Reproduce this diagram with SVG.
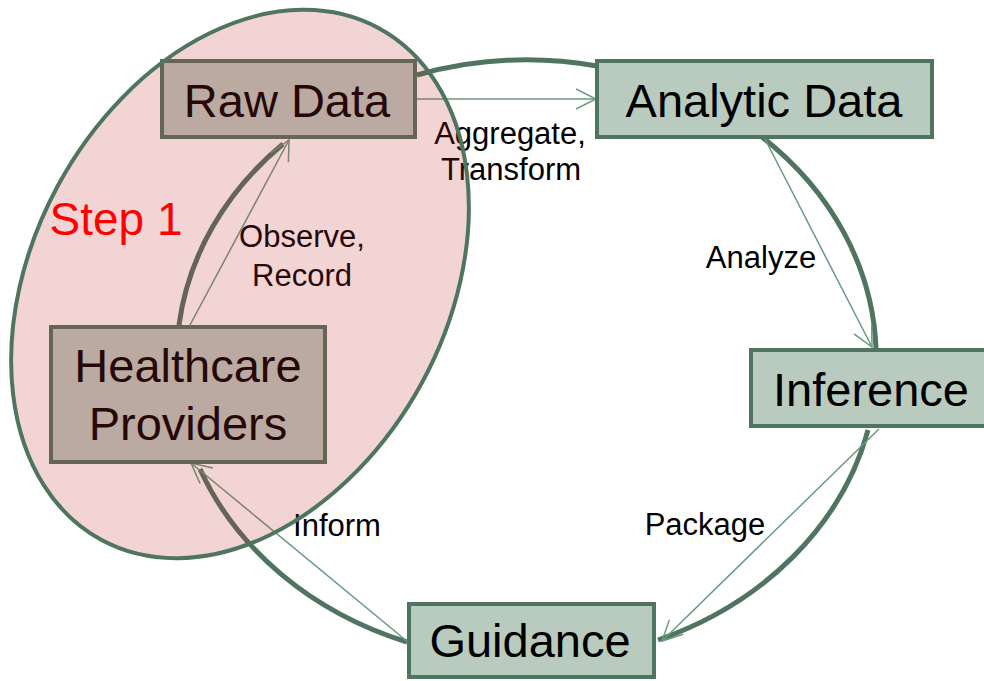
<svg xmlns="http://www.w3.org/2000/svg" width="984" height="681" viewBox="0 0 984 681">
<style>
.box{fill:#b9cbbe;stroke:#4f7560;stroke-width:4}
.nt{font-family:"Liberation Sans",Arial,sans-serif;font-size:47px;fill:#000;text-anchor:middle}
.lt{font-family:"Liberation Sans",Arial,sans-serif;font-size:31px;fill:#000;text-anchor:middle}
.arc{fill:none;stroke:#4f7560;stroke-width:5}
.ln{fill:none;stroke:#6a9a7c;stroke-width:1.5;marker-end:url(#ah)}
</style>
<defs>
<marker id="ah" viewBox="-1 -1 22 22" markerWidth="22" markerHeight="22" refX="20" refY="10" orient="auto" markerUnits="userSpaceOnUse">
<path d="M0,0 L20,10 L0,20" fill="none" stroke="#6a9a7c" stroke-width="1.5"/>
</marker>
</defs>
<rect width="984" height="681" fill="#fff"/>
<g id="connectors">
<path class="arc" d="M417,75 A351,300 0 0 1 597,66"/>
<path class="arc" d="M762,137 A351,300 0 0 1 876,348"/>
<path class="arc" d="M868,430 A351,300 0 0 1 658,640"/>
<path class="arc" d="M407,642 A351,300 0 0 1 200,469"/>
<path class="arc" d="M179,325 A351,300 0 0 1 283,144"/>
<path class="ln" d="M417,99 L596,99"/>
<path class="ln" d="M765,139 L872,347"/>
<path class="ln" d="M879,429 L662,641"/>
<path class="ln" d="M408,642 L191,463"/>
<path class="ln" d="M190,325 L289,140"/>
<text class="lt" x="510" y="144">Aggregate,</text>
<text class="lt" x="511" y="180">Transform</text>
<text class="lt" x="761" y="268">Analyze</text>
<text class="lt" x="705" y="535">Package</text>
<text class="lt" x="337" y="536">Inform</text>
<text class="lt" x="302" y="247">Observe,</text>
<text class="lt" x="302" y="286">Record</text>
</g>
<g id="raw-data">
<rect class="box" x="162" y="61" width="253" height="76"/>
<text class="nt" x="287" y="117">Raw Data</text>
</g>
<g id="analytic-data">
<rect class="box" x="597" y="61" width="335" height="76"/>
<text class="nt" x="764" y="117">Analytic Data</text>
</g>
<g id="inference">
<rect class="box" x="751" y="350" width="240" height="76"/>
<text class="nt" x="871" y="406">Inference</text>
</g>
<g id="guidance">
<rect class="box" x="409" y="604" width="245" height="73"/>
<text class="nt" x="530" y="657">Guidance</text>
</g>
<g id="healthcare-providers">
<rect class="box" x="51" y="327" width="274" height="135"/>
<text class="nt" x="188" y="382">Healthcare</text>
<text class="nt" x="188" y="440">Providers</text>
</g>
<g id="step1">
<ellipse cx="0" cy="0" rx="207" ry="291" transform="translate(240,284) rotate(28.5)" fill="#c0282e" fill-opacity="0.2" stroke="#4f7560" stroke-width="4"/>
<text x="116" y="235" font-family="'Liberation Sans',Arial,sans-serif" font-size="46" fill="#ff0000" text-anchor="middle">Step 1</text>
</g>
</svg>
